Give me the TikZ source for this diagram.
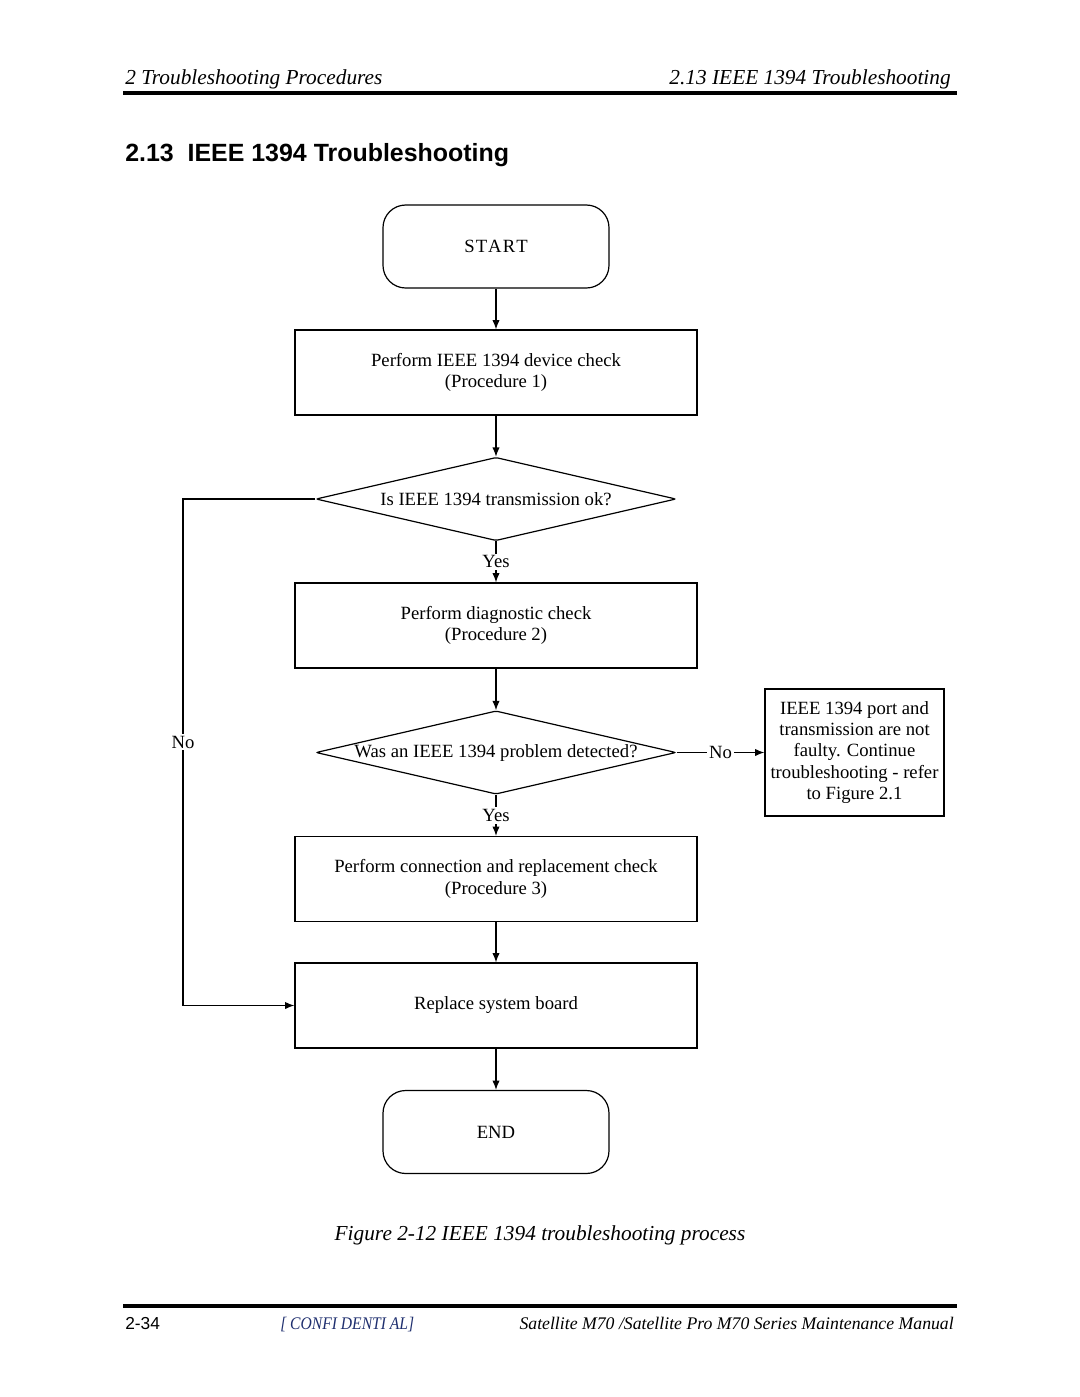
\documentclass[tikz,border=0pt]{standalone}
\usepackage{fontspec}
\setmainfont{Liberation Serif}
\setsansfont{Liberation Sans}
\usetikzlibrary{shapes.geometric,arrows.meta}
\definecolor{confnavy}{HTML}{1F2F6F}
\begin{document}
\begin{tikzpicture}[x=0.75pt,y=-0.75pt,
  every node/.style={font=\fontsize{14}{16}\selectfont},
  arr/.style={line width=0.9pt,-{Latex[length=7pt,width=5.5pt]}},
  term/.style={draw,line width=0.9pt,rounded corners=17pt,minimum width=169.5pt,minimum height=62.25pt},
  proc/.style={draw,line width=0.9pt,minimum width=301.5pt,minimum height=63.75pt,align=center},
  dec/.style={draw,line width=0.9pt,shape=diamond,aspect=4.4,inner sep=0pt,minimum width=270pt,minimum height=62.5pt,rounded corners=1.5pt},
  lbl/.style={fill=white,inner sep=1.5pt},
  hdr/.style={font=\fontsize{16}{18}\selectfont\itshape,inner sep=0pt},
  rule/.style={line width=3pt}
]
\useasboundingbox[fill=white] (0,0) rectangle (1080,1397);

% header
\node[hdr,anchor=base west] (hl) at (125,84) {2 Troubleshooting Procedures};
\node[hdr,anchor=base east] (hr) at (951,84) {2.13 IEEE 1394 Troubleshooting};
\coordinate (hr1) at (123,93);
\coordinate (hr2) at (957,93);
\draw[rule] (hr1) -- (hr2);
\node[anchor=base west,inner sep=0pt,font=\fontsize{18.7}{20}\sffamily\bfseries] (title) at (125,161) {2.13\ \ IEEE 1394 Troubleshooting};

% flowchart
\node[term] (start) at (496,246.5) {S\kern0.8pt T\kern0.8pt A\kern0.8pt R\kern0.8pt T};
\node[proc] (b1) at (496,372.5) {Perform IEEE 1394 device check\\(Procedure 1)};
\node[dec] (d1) at (496,499) {};
\node (d1t) at (d1.center) {Is IEEE 1394 transmission ok?};
\node[proc] (b2) at (496,625.5) {Perform diagnostic check\\(Procedure 2)};
\node[dec] (d2) at (496,752.5) {};
\node (d2t) at (d2.center) {Was an IEEE 1394 problem detected?};
\node[draw,line width=0.9pt,minimum width=134.25pt,minimum height=95.25pt,align=center,inner sep=1pt] (rb) at (854.5,752.5)
  {IEEE 1394 port and\\transmission are not\\faulty. Continue\\troubleshooting - refer\\to Figure 2.1};
\node[proc] (b3) at (496,879) {Perform connection and replacement check\\(Procedure 3)};
\node[proc] (b4) at (496,1005.5) {Replace system board};
\node[term] (endn) at (496,1132) {END};

\draw[arr] (start) -- (b1);
\draw[arr] (b1) -- (d1);
\draw[arr] (d1) -- node[lbl] (y1) {Yes} (b2);
\draw[arr] (b2) -- (d2);
\draw[arr] (d2) -- node[lbl] (y2) {Yes} (b3);
\draw[arr] (d2) -- node[lbl] (n2) {No} (rb);
\draw[arr] (b3) -- (b4);
\draw[arr] (b4) -- (endn);
\coordinate (c1) at (183,499);
\coordinate (c2) at (183,1005.5);
\draw[arr] (d1.west) -- (c1) -- (c2) -- (b4.west);
\node[lbl] (n1) at (183,742) {No};

% caption
\node[anchor=base,inner sep=0pt,font=\fontsize{16}{18}\selectfont\itshape] (cap) at (540,1240) {Figure 2-12 IEEE 1394 troubleshooting process};

% footer
\coordinate (fr1) at (123,1306);
\coordinate (fr2) at (957,1306);
\draw[rule] (fr1) -- (fr2);
\node[anchor=base west,inner sep=0pt,font=\fontsize{13}{15}\sffamily] (pg) at (125,1329) {2-34};
\node[anchor=base west,inner sep=0pt,font=\fontsize{13.3}{15}\selectfont\itshape,text=confnavy] (conf) at (280,1329) {\scalebox{0.88}[1]{[ CONFI DENTI AL]}};
\node[anchor=base east,inner sep=0pt,font=\fontsize{13.3}{15}\selectfont\itshape] (man) at (954,1329) {Satellite M70 /Satellite Pro M70 Series Maintenance Manual};
\end{tikzpicture}
\end{document}
